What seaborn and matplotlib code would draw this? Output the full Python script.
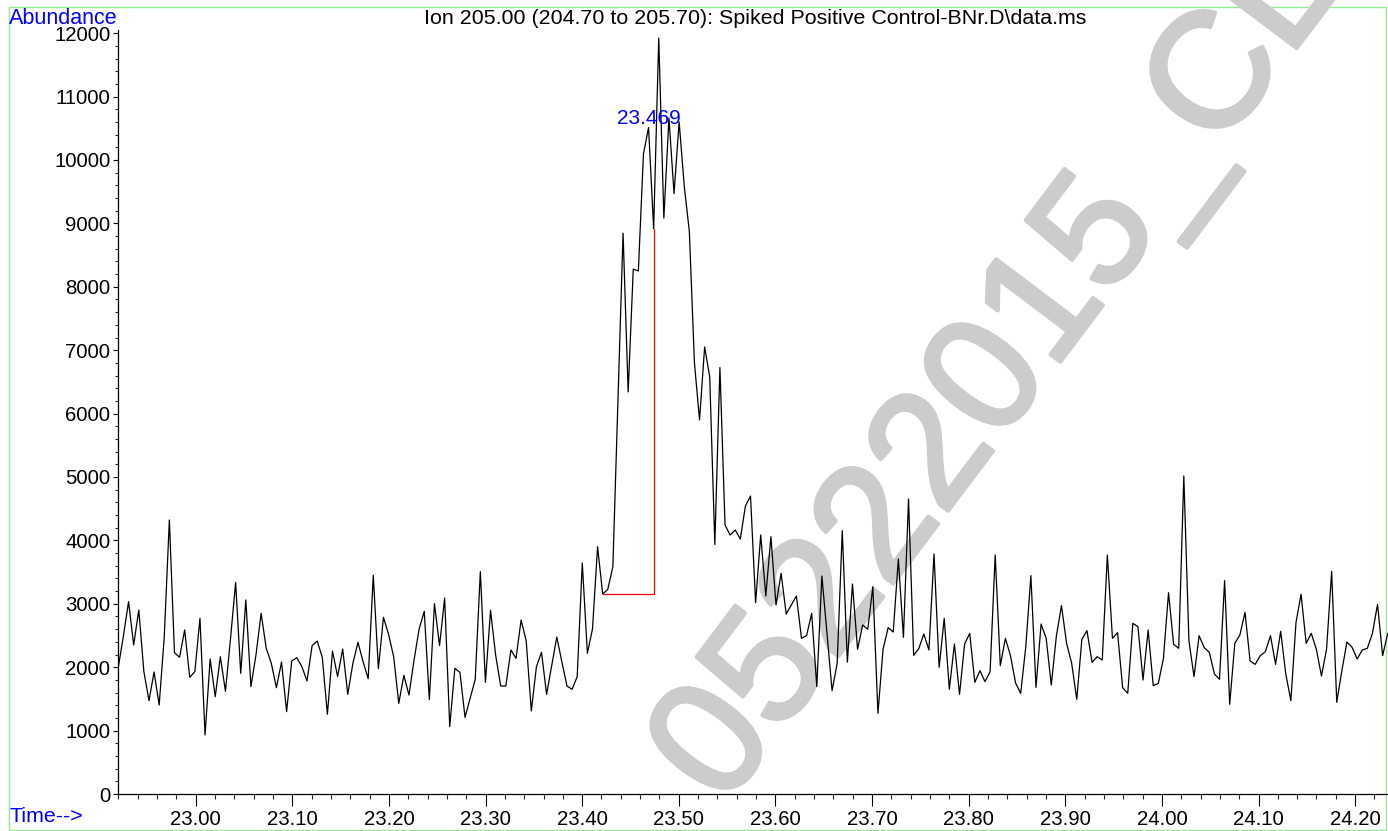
import numpy as np
import pandas as pd
import matplotlib
matplotlib.use("Agg")
import matplotlib.pyplot as plt
import matplotlib.patheffects as pe
from matplotlib.ticker import MultipleLocator, FormatStrFormatter
from matplotlib.patches import Rectangle
import seaborn as sns

# Extracted ion chromatogram, m/z 205.00 (204.70 to 205.70)
scan_start = 22.9200      # min, retention time of the first scan
scan_interval = 0.005276  # min between scans

abundance = [
    2008, 2500, 3034, 2350, 2902, 1930, 1472, 1924, 1404, 2480,
    4322, 2229, 2156, 2587, 1840, 1930, 2771, 931, 2129, 1535,
    2166, 1620, 2455, 3339, 1903, 3060, 1693, 2200, 2850, 2298,
    2061, 1677, 2082, 1299, 2098, 2150, 2008, 1782, 2340, 2413,
    2156, 1257, 2256, 1851, 2287, 1572, 2061, 2392, 2087, 1819,
    3449, 1977, 2787, 2518, 2166, 1430, 1872, 1561, 2114, 2603,
    2881, 1488, 3002, 2340, 3091, 1062, 1982, 1919, 1209, 1509,
    1809, 3507, 1761, 2897, 2192, 1703, 1703, 2271, 2140, 2744,
    2413, 1309, 2008, 2235, 1572, 2024, 2476, 2082, 1703, 1651,
    1851, 3643, 2219, 2603, 3901, 3155, 3228, 3586, 6200, 8845,
    6342, 8279, 8249, 10096, 10512, 8916, 11924, 9084, 10662, 9470,
    10600, 9590, 8874, 6800, 5900, 7050, 6580, 3935, 6727, 4243,
    4085, 4164, 4022, 4543, 4700, 3018, 4085, 3123, 4059, 2981,
    3481, 2839, 2981, 3123, 2455, 2500, 2850, 1693, 3438, 2534,
    1630, 2061, 4153, 2080, 3312, 2282, 2666, 2597, 3270, 1272,
    2282, 2624, 2555, 3707, 2471, 4653, 2187, 2292, 2524, 2271,
    3785, 1998, 2771, 1651, 2366, 1572, 2366, 2534, 1761, 1945,
    1772, 1930, 3770, 2024, 2455, 2180, 1750, 1588, 2324, 3444,
    1682, 2681, 2455, 1719, 2492, 2971, 2376, 2061, 1493, 2439,
    2576, 2077, 2166, 2114, 3770, 2455, 2545, 1677, 1588, 2692,
    2639, 1798, 2587, 1709, 1745, 2140, 3175, 2361, 2298, 5016,
    2418, 1851, 2497, 2308, 2235, 1893, 1809, 3365, 1414, 2376,
    2508, 2865, 2098, 2045, 2182, 2245, 2497, 2045, 2566, 1893,
    1472, 2703, 3150, 2376, 2534, 2282, 1861, 2282, 3512, 1446,
    1945, 2397, 2314, 2129, 2271, 2298, 2534, 2992, 2182, 2534,
]

# Integrated peak: baseline start / end scans and reported retention time
peak_start_scan = 95
peak_end_scan = 105
peak_rt_label = "23.469"
peak_label_height = 10660

x_ticks = [23.00, 23.10, 23.20, 23.30, 23.40, 23.50, 23.60, 23.70,
           23.80, 23.90, 24.00, 24.10, 24.20]
y_ticks = [0, 1000, 2000, 3000, 4000, 5000, 6000, 7000, 8000, 9000,
           10000, 11000, 12000]

title_text = "Ion 205.00 (204.70 to 205.70): Spiked Positive Control-BNr.D\\data.ms"
stamp_text = "05222015_CL"

scan = np.arange(len(abundance))
df = pd.DataFrame({"time": scan_start + scan_interval * scan,
                   "abundance": abundance})

sns.set_theme(style="ticks")
plt.rcParams["font.family"] = ["Liberation Sans", "DejaVu Sans"]

W, H = 1388, 831
fig = plt.figure(figsize=(W / 100, H / 100), dpi=100)
fig.patch.set_facecolor("white")

# plotting area
ax = fig.add_axes([118 / W, 37 / H, 1270 / W, 764 / H])
ax.patch.set_visible(False)

# diagonal stamp behind the trace
fig.text(1000 / W, 1 - 372 / H, stamp_text, rotation=53,
         rotation_mode="anchor", ha="center", va="center",
         fontsize=118, color="#cccccc", zorder=-5,
         path_effects=[pe.withStroke(linewidth=3, foreground="#cccccc")])

sns.lineplot(data=df, x="time", y="abundance", ax=ax, color="black",
             linewidth=0.9, estimator=None, sort=False, zorder=3)

# integration baseline and drop line
t_s = df["time"].iloc[peak_start_scan]
t_e = df["time"].iloc[peak_end_scan]
a_s = df["abundance"].iloc[peak_start_scan]
a_e = df["abundance"].iloc[peak_end_scan]
ax.plot([t_s, t_e, t_e], [a_s, a_s, a_e], color="#ff0000",
        linewidth=0.9, zorder=2)

ax.text(float(peak_rt_label), peak_label_height, peak_rt_label,
        color="#0000ff", fontsize=15, ha="center", va="center", zorder=4)

ax.set_xlim(22.9196, 24.2340)
ax.set_ylim(0, 12050)
ax.set_xticks(x_ticks)
ax.set_yticks(y_ticks)
ax.xaxis.set_major_formatter(FormatStrFormatter("%.2f"))
ax.xaxis.set_minor_locator(MultipleLocator(0.02))
ax.yaxis.set_minor_locator(MultipleLocator(200))
ax.set_xlabel("")
ax.set_ylabel("")

for side in ("top", "right"):
    ax.spines[side].set_visible(False)
for side in ("left", "bottom"):
    ax.spines[side].set_color("black")
    ax.spines[side].set_linewidth(0.9)

ax.tick_params(axis="x", which="major", length=8.5, width=0.8,
               direction="out", pad=3, labelsize=14.7, colors="black")
ax.tick_params(axis="x", which="minor", length=3.6, width=0.8,
               direction="out")
ax.tick_params(axis="y", which="major", length=3.5, width=0.8,
               direction="out", pad=2, labelsize=14.7, colors="black")
ax.tick_params(axis="y", which="minor", length=2.0, width=0.8,
               direction="out")

# header / footer captions
fig.text(9 / W, 1 - 19 / H, "Abundance", color="#0000ff", fontsize=15.5,
         ha="left", va="center")
fig.text(755 / W, 1 - 19 / H, title_text, color="black", fontsize=15.4,
         ha="center", va="center")
fig.text(9 / W, 1 - 817 / H, "Time-->", color="#0000ff", fontsize=15.4,
         ha="left", va="center")

# light green frame around the page
fig.patches.append(Rectangle((9 / W, 1 / H), 1377 / W, 823 / H,
                             transform=fig.transFigure, fill=False,
                             edgecolor="#90ee90", linewidth=1.0,
                             zorder=-10))

fig.savefig("out.png", dpi=100, facecolor="white")
